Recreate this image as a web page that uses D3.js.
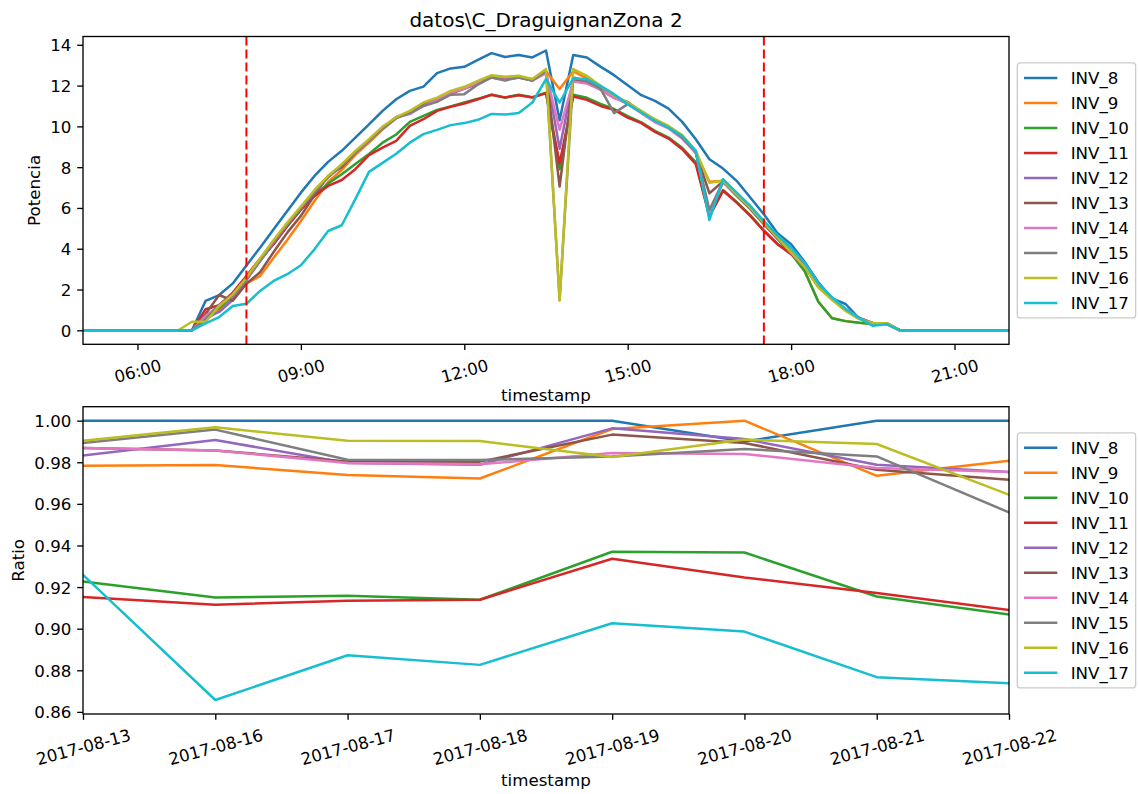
<!DOCTYPE html>
<html><head><meta charset="utf-8">
<script src="https://cdn.jsdelivr.net/npm/d3@7"></script>
<style>
body{margin:0;background:#fff}
svg{display:block}
text{font-family:"DejaVu Sans",sans-serif;fill:#000}
</style>
</head><body>
<svg id="c" width="1139" height="794"></svg>
<script>
// ---------------- DATA ----------------
const seriesNames = ["INV_8","INV_9","INV_10","INV_11","INV_12","INV_13","INV_14","INV_15","INV_16","INV_17"];
const colors = ["#1f77b4","#ff7f0e","#2ca02c","#d62728","#9467bd","#8c564b","#e377c2","#7f7f7f","#bcbd22","#17becf"];

// top panel: 15-minute timestamps from 05:00 to 22:00 on 2017-08-22
const tStart = new Date(2017, 7, 22, 5, 0);
const tEnd = new Date(2017, 7, 22, 22, 0);
const times = d3.timeMinute.every(15).range(tStart, new Date(tEnd.getTime() + 1));
const vLines = ["08:00", "17:30"];

const INV_8  = [0,0,0,0,0,0,0,0, 0,1.44,1.73,2.30,3.18,4.05,4.95,5.85,6.75,7.57,8.26,8.80,9.45,10.10,10.76,11.33,11.74,11.95,12.61,12.84,12.92,13.26,13.59,13.40,13.50,13.38,13.72,10.30,13.50,13.38,12.93,12.51,12.02,11.53,11.25,10.87,10.22,9.37,8.39,7.93,7.33,6.51,5.69,4.76,4.22,3.35,2.35,1.57,1.29,0.59,0.31,0.34, 0,0,0,0,0,0,0,0,0];
const INV_9  = [0,0,0,0,0,0,0,0, 0,0.5,1.0,1.6,2.3,2.66,3.56,4.43,5.36,6.34,7.27,7.86,8.6,9.2,9.85,10.4,10.7,11.05,11.35,11.65,11.85,12.15,12.45,12.35,12.42,12.28,12.7,11.83,12.7,12.35,11.9,11.45,11.1,10.7,10.3,9.95,9.5,8.7,7.29,7.33,6.62,5.95,5.22,4.5,3.8,2.9,1.4,0.6,0.45,0.37,0.31,0.31, 0,0,0,0,0,0,0,0,0];
const INV_10 = [0,0,0,0,0,0,0,0, 0,0.7,1.1,1.7,2.5,3.4,4.25,5.1,5.9,6.6,7.2,7.65,8.15,8.65,9.2,9.6,10.22,10.51,10.81,10.98,11.17,11.35,11.55,11.42,11.55,11.43,11.65,7.9,11.55,11.4,11.1,10.85,10.5,10.2,9.78,9.45,8.95,8.25,5.6,6.88,6.3,5.65,4.9,4.25,3.75,2.9,1.4,0.59,0.45,0.37,0.31,0.31, 0,0,0,0,0,0,0,0,0];
const INV_11 = [0,0,0,0,0,0,0,0, 0,1.03,1.23,1.85,2.66,3.51,4.22,5.12,5.94,6.59,7.08,7.37,7.9,8.59,8.96,9.29,10.02,10.35,10.76,10.96,11.12,11.33,11.55,11.41,11.53,11.41,11.63,8.19,11.46,11.3,11.0,10.81,10.43,10.16,9.73,9.4,8.88,8.15,5.6,6.84,6.26,5.61,4.87,4.22,3.73,3.25,2.2,1.55,1.0,0.59,0.33,0.33, 0,0,0,0,0,0,0,0,0];
const INV_12 = [0,0,0,0,0,0,0,0, 0,0.6,0.9,1.5,2.45,3.4,4.3,5.2,6.0,6.8,7.5,8.1,8.75,9.3,9.9,10.45,10.7,11.1,11.35,11.65,11.85,12.15,12.45,12.35,12.45,12.25,12.7,8.9,12.3,12.2,11.85,11.45,11.15,10.7,10.3,9.95,9.5,8.75,5.7,7.3,6.65,6.0,5.25,4.5,3.8,3.1,2.15,1.55,1.0,0.6,0.35,0.35, 0,0,0,0,0,0,0,0,0];
const INV_13 = [0,0,0,0,0,0,0,0, 0,0.8,1.73,1.45,2.28,2.85,3.84,4.79,5.61,6.62,7.57,8.0,8.7,9.3,9.9,10.45,10.65,11.05,11.3,11.6,11.85,12.1,12.4,12.3,12.4,12.25,12.65,7.05,12.3,12.15,11.8,11.4,11.2,10.7,10.3,9.95,9.45,8.7,6.72,7.3,6.6,5.95,5.2,4.5,3.8,3.1,2.15,1.55,1.0,0.6,0.35,0.35, 0,0,0,0,0,0,0,0,0];
const INV_14 = [0,0,0,0,0,0,0,0, 0,0.7,1.2,1.7,2.5,3.45,4.35,5.2,6.0,6.8,7.5,8.1,8.7,9.3,9.9,10.45,10.6,11.0,11.3,11.65,11.85,12.15,12.45,12.4,12.45,12.25,12.6,9.83,12.2,12.1,11.8,11.4,11.1,10.65,10.2,9.9,9.4,8.7,5.8,7.25,6.6,6.0,5.25,4.55,3.85,3.15,2.2,1.6,1.05,0.62,0.35,0.35, 0,0,0,0,0,0,0,0,0];
const INV_15 = [0,0,0,0,0,0,0,0, 0,0.55,1.25,1.7,2.5,3.45,4.35,5.2,6.0,6.8,7.5,8.1,8.7,9.3,9.9,10.4,10.65,11.0,11.2,11.55,11.58,12.05,12.4,12.25,12.4,12.25,12.7,1.5,12.4,12.2,11.85,10.65,11.09,10.7,10.3,9.95,9.45,8.75,5.9,7.3,6.6,5.95,5.25,4.55,3.85,3.15,2.2,1.6,1.0,0.6,0.35,0.35, 0,0,0,0,0,0,0,0,0];
const INV_16 = [0,0,0,0,0,0,0,0, 0.42,0.42,1.19,1.76,2.58,3.52,4.43,5.28,6.07,6.88,7.57,8.15,8.80,9.37,9.99,10.45,10.76,11.17,11.41,11.74,11.94,12.23,12.51,12.43,12.48,12.32,12.81,1.45,12.81,12.48,11.99,11.53,11.17,10.76,10.35,10.02,9.57,8.80,7.24,7.33,6.67,6.02,5.28,4.55,3.81,3.10,2.10,1.50,0.95,0.55,0.35,0.35, 0,0,0,0,0,0,0,0,0];
const INV_17 = [0,0,0,0,0,0,0,0, 0,0.34,0.65,1.19,1.30,1.93,2.42,2.75,3.19,3.97,4.87,5.15,6.43,7.77,8.21,8.66,9.2,9.62,9.83,10.06,10.16,10.32,10.61,10.58,10.65,11.17,12.32,11.17,12.35,12.32,11.99,11.58,11.09,10.68,10.27,9.94,9.53,8.80,5.41,7.41,6.75,6.10,5.36,4.66,4.05,3.3,2.3,1.62,1.05,0.6,0.22,0.3, 0,0,0,0,0,0,0,0,0];
const potencia = [INV_8, INV_9, INV_10, INV_11, INV_12, INV_13, INV_14, INV_15, INV_16, INV_17];

// bottom panel: daily ratio
const dates = ["2017-08-13","2017-08-16","2017-08-17","2017-08-18","2017-08-19","2017-08-20","2017-08-21","2017-08-22"];
const R_8  = [1.000,1.000,1.000,1.000,1.000,0.990,1.000,1.000];
const R_9  = [0.9783,0.9787,0.9739,0.9722,0.9960,1.0000,0.9735,0.9807];
const R_10 = [0.9227,0.9150,0.9158,0.9139,0.9370,0.9366,0.9155,0.9068];
const R_11 = [0.9152,0.9115,0.9134,0.9139,0.9336,0.9246,0.9171,0.9090];
const R_12 = [0.9832,0.9907,0.9796,0.9788,0.9963,0.9912,0.9788,0.9753];
const R_13 = [0.9869,0.9857,0.9804,0.9803,0.9933,0.9893,0.9764,0.9716];
const R_14 = [0.9869,0.9857,0.9796,0.9790,0.9844,0.9840,0.9772,0.9753];
const R_15 = [0.9893,0.9957,0.9812,0.9811,0.9828,0.9864,0.9828,0.9559];
const R_16 = [0.9904,0.9968,0.9904,0.9902,0.9825,0.9909,0.9888,0.9644];
const R_17 = [0.9259,0.8657,0.8872,0.8826,0.9026,0.8986,0.8767,0.8738];
const ratio = [R_8, R_9, R_10, R_11, R_12, R_13, R_14, R_15, R_16, R_17];

const topYTicks = [0,2,4,6,8,10,12,14];
const botYTicks = [0.86,0.88,0.90,0.92,0.94,0.96,0.98,1.00];

// ---------------- LAYOUT ----------------
const FS = 16.67, TICK = 5.8, PAD = 5.8, LW = 2.5;
const L = 83, R = 1009;
const pT = {y0: 36.5, y1: 344.3};
const pB = {y0: 406.7, y1: 714};
const svg = d3.select("#c");

function padDomain(vals){
  const mn = d3.min(vals), mx = d3.max(vals), m = (mx - mn) * 0.05;
  return [mn - m, mx + m];
}

function styleAxis(g){
  g.select(".domain").remove();
  g.selectAll(".tick line").attr("stroke","#000").attr("stroke-width",1.33);
  g.selectAll(".tick text").attr("font-size",FS).attr("font-family","DejaVu Sans").attr("fill","#000");
}

function rotateX(g, angle){
  g.selectAll(".tick text").each(function(){
    const t = d3.select(this);
    const len = this.getComputedTextLength();
    const h = 1.164 * FS;
    const a = angle * Math.PI / 180;
    const bh = len * Math.sin(a) + h * Math.cos(a);
    t.attr("y", null).attr("dy", null)
     .attr("text-anchor","middle")
     .attr("dominant-baseline","central")
     .attr("transform", `translate(0,${TICK + PAD + bh/2}) rotate(${-angle})`);
  });
}

function legend(cy){
  const bp = 0.4*FS, hl = 2*FS, htp = 0.8*FS, ls = 0.5*FS, rowH = FS;
  const n = seriesNames.length;
  const H = 2*bp + n*rowH + (n-1)*ls;
  const x0 = R + 0.5*FS;
  const y0 = cy - H/2;
  const g = svg.append("g");
  const tmp = g.append("text").attr("font-size",FS).text("INV_10");
  const tw = tmp.node().getComputedTextLength(); tmp.remove();
  const W = 2*bp + hl + htp + tw;
  g.append("rect").attr("x",x0).attr("y",y0).attr("width",W).attr("height",H)
    .attr("rx",3).attr("fill","#fff").attr("fill-opacity",0.8)
    .attr("stroke","#cccccc").attr("stroke-width",1.33);
  seriesNames.forEach((s,i)=>{
    const yy = y0 + bp + i*(rowH+ls) + rowH/2;
    g.append("line").attr("x1",x0+bp).attr("x2",x0+bp+hl).attr("y1",yy).attr("y2",yy)
      .attr("stroke",colors[i]).attr("stroke-width",LW);
    g.append("text").attr("x",x0+bp+hl+htp).attr("y",yy).attr("dy","0.36em")
      .attr("font-size",FS).text(s);
  });
}

// ---------------- TOP PANEL ----------------
const xT = d3.scaleTime().domain(d3.extent(times)).range([L,R]);
const yT = d3.scaleLinear().domain(padDomain(potencia.flat())).range([pT.y1, pT.y0]);

svg.append("clipPath").attr("id","clipT").append("rect")
  .attr("x",L).attr("y",pT.y0).attr("width",R-L).attr("height",pT.y1-pT.y0);
svg.append("clipPath").attr("id","clipB").append("rect")
  .attr("x",L).attr("y",pB.y0).attr("width",R-L).attr("height",pB.y1-pB.y0);

const gT = svg.append("g").attr("clip-path","url(#clipT)");
const lineT = d3.line().x((d,i)=>xT(times[i])).y(d=>yT(d));
potencia.forEach((s,i)=>{
  gT.append("path").datum(s).attr("d",lineT).attr("fill","none")
    .attr("stroke",colors[i]).attr("stroke-width",LW).attr("stroke-linejoin","round").attr("stroke-linecap","square");
});
const parseHM = d3.timeParse("%Y-%m-%d %H:%M");
vLines.forEach(v=>{
  const x = xT(parseHM("2017-08-22 " + v));
  gT.append("line").attr("x1",x).attr("x2",x).attr("y1",pT.y0).attr("y2",pT.y1)
    .attr("stroke","#ff0000").attr("stroke-width",2).attr("stroke-dasharray","9,4");
});

const axTx = svg.append("g").attr("transform",`translate(0,${pT.y1})`)
  .call(d3.axisBottom(xT).ticks(d3.timeHour.every(3)).tickFormat(d3.timeFormat("%H:%M")).tickSize(TICK).tickPadding(PAD).tickSizeOuter(0));
styleAxis(axTx); rotateX(axTx, 15);
const axTy = svg.append("g").attr("transform",`translate(${L},0)`)
  .call(d3.axisLeft(yT).tickValues(topYTicks).tickFormat(d3.format("d")).tickSize(TICK).tickPadding(PAD).tickSizeOuter(0));
styleAxis(axTy);
axTy.selectAll(".tick text").attr("dy","0.36em");
svg.append("rect").attr("x",L).attr("y",pT.y0).attr("width",R-L).attr("height",pT.y1-pT.y0)
  .attr("fill","none").attr("stroke","#000").attr("stroke-width",1.33);

svg.append("text").attr("x",(L+R)/2).attr("y",pT.y0-10).attr("text-anchor","middle")
  .attr("font-size",20).text("datos\\C_DraguignanZona 2");
svg.append("text").attr("x",(L+R)/2).attr("y",401).attr("text-anchor","middle")
  .attr("font-size",FS).text("timestamp");
svg.append("text").attr("transform",`translate(40,${(pT.y0+pT.y1)/2}) rotate(-90)`)
  .attr("text-anchor","middle").attr("font-size",FS).text("Potencia");
legend((pT.y0+pT.y1)/2);

// ---------------- BOTTOM PANEL ----------------
const xB = d3.scalePoint().domain(dates).range([L,R]).padding(0);
const yB = d3.scaleLinear().domain(padDomain(ratio.flat())).range([pB.y1, pB.y0]);
const gB = svg.append("g").attr("clip-path","url(#clipB)");
const lineB = d3.line().x((d,i)=>xB(dates[i])).y(d=>yB(d));
ratio.forEach((s,i)=>{
  gB.append("path").datum(s).attr("d",lineB).attr("fill","none")
    .attr("stroke",colors[i]).attr("stroke-width",LW).attr("stroke-linejoin","round").attr("stroke-linecap","square");
});
const axBx = svg.append("g").attr("transform",`translate(0,${pB.y1})`)
  .call(d3.axisBottom(xB).tickSize(TICK).tickPadding(PAD).tickSizeOuter(0));
styleAxis(axBx); rotateX(axBx, 15);
const axBy = svg.append("g").attr("transform",`translate(${L},0)`)
  .call(d3.axisLeft(yB).tickValues(botYTicks).tickFormat(d3.format(".2f")).tickSize(TICK).tickPadding(PAD).tickSizeOuter(0));
styleAxis(axBy);
axBy.selectAll(".tick text").attr("dy","0.36em");
svg.append("rect").attr("x",L).attr("y",pB.y0).attr("width",R-L).attr("height",pB.y1-pB.y0)
  .attr("fill","none").attr("stroke","#000").attr("stroke-width",1.33);
svg.append("text").attr("x",(L+R)/2).attr("y",786).attr("text-anchor","middle")
  .attr("font-size",FS).text("timestamp");
svg.append("text").attr("transform",`translate(24,${(pB.y0+pB.y1)/2}) rotate(-90)`)
  .attr("text-anchor","middle").attr("font-size",FS).text("Ratio");
legend((pB.y0+pB.y1)/2);
</script>
</body></html>
